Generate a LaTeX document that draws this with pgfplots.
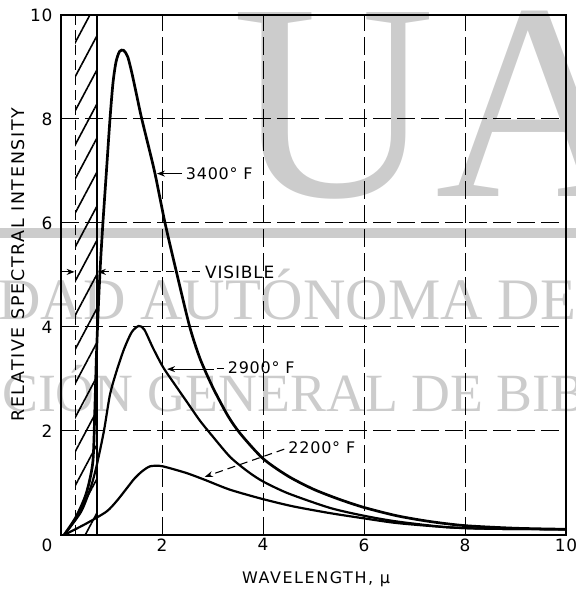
\documentclass[border=0pt]{standalone}
\usepackage{fontspec}
\setmainfont{DejaVu Sans}
\newfontfamily\lbl{DejaVu Sans}[LetterSpace=5]
\newfontfamily\axl{DejaVu Sans}[LetterSpace=10]
\newfontfamily\wm{Liberation Serif}
\usepackage{pgfplots}
\pgfplotsset{compat=1.18}
\usetikzlibrary{patterns.meta,arrows.meta}
\definecolor{wmgray}{gray}{0.8}

\begin{document}
\begin{tikzpicture}
\useasboundingbox (-61bp,-58bp) rectangle (515bp,535bp);
% watermark behind the chart (page coordinates, origin at bottom left)
\begin{scope}[shift={(-61bp,-58bp)}]
\fill[wmgray] (0bp,355bp) rectangle (576bp,365bp);
\node[wmgray,anchor=base west,inner sep=0,font=\wm\fontsize{282}{282}\selectfont] at (232bp,396bp) {UA};
\node[wmgray,anchor=base west,inner sep=0,font=\wm\fontsize{59}{59}\selectfont] at (-2bp,273bp) {DAD AUTÓNOMA DE};
\node[wmgray,anchor=base west,inner sep=0,font=\wm\fontsize{54}{54}\selectfont] at (2bp,181bp) {CIÓN GENERAL DE BIB};
\end{scope}

\begin{axis}[
    at={(0,0)}, anchor=south west,
    width=505bp, height=520bp, scale only axis,
    xmin=0, xmax=10, ymin=0, ymax=10,
    xtick={2,4,6,8,10}, ytick={2,4,6,8,10},
    extra x ticks={0},
    extra x tick style={grid=none, xticklabel style={xshift=-14bp}},
    major tick length=0pt,
    grid=major,
    major grid style={black, line width=1bp, dash pattern=on 18bp off 6bp},
    axis line style={line width=1.4bp},
    /pgf/number format/assume math mode=true,
    ticklabel style={font=\lbl\fontsize{17}{17}\selectfont},
    yticklabel style={xshift=-5bp},
    xlabel={WAVELENGTH, µ},
    ylabel={RELATIVE SPECTRAL INTENSITY},
    xlabel style={font=\axl\fontsize{16}{16}\selectfont, at={(axis description cs:0.505,0)}, anchor=north, yshift=-33bp},
    ylabel style={font=\axl\fontsize{17.5}{17.5}\selectfont, at={(axis description cs:-0.085,0.52)}, anchor=center},
]
% visible band
\addplot[draw=none, pattern={Lines[angle=62,distance=16bp,line width=1.6bp]}]
    coordinates {(0.28,0) (0.28,10) (0.72,10) (0.72,0)} -- cycle;
\addplot[line width=1bp, dash pattern=on 10bp off 5bp] coordinates {(0.28,0) (0.28,10)};
\addplot[line width=2.2bp] coordinates {(0.72,0) (0.72,10)};

% 3400 F
\addplot[line width=2.7bp, smooth, tension=0.45] coordinates {
    (0.06,0) (0.3,0.35) (0.5,0.8) (0.63,1.4) (0.67,2.4) (0.7,3.4) (0.74,4.4)
    (0.78,5.2) (0.83,6.0) (0.9,7.0) (0.97,8.0) (1.03,8.7) (1.09,9.1) (1.16,9.3)
    (1.24,9.32) (1.32,9.2) (1.4,8.9) (1.5,8.45) (1.6,8.0) (1.85,7.0) (2.06,6.0)
    (2.3,5.0) (2.55,4.0) (2.75,3.4) (3.0,2.85) (3.3,2.3) (3.55,1.95) (4.0,1.47)
    (4.5,1.13) (5.0,0.88) (5.5,0.69) (6.0,0.53) (6.65,0.37) (7.3,0.26)
    (8.0,0.18) (9.0,0.13) (10,0.11)
};
% 2900 F
\addplot[line width=2.2bp, smooth, tension=0.45] coordinates {
    (0.06,0) (0.4,0.45) (0.6,0.95) (0.71,1.35) (0.85,2.0) (0.97,2.7) (1.1,3.15)
    (1.25,3.58) (1.4,3.9) (1.54,4.02) (1.65,3.95) (1.82,3.6) (2.02,3.23)
    (2.25,2.9) (2.5,2.55) (2.75,2.2) (3.0,1.9) (3.35,1.5) (3.7,1.22) (4.0,1.03)
    (4.5,0.8) (5.33,0.52) (6.0,0.37) (6.65,0.26) (7.64,0.15) (8.5,0.12) (10,0.11)
};
% 2200 F
\addplot[line width=2.2bp, smooth, tension=0.45] coordinates {
    (0.06,0) (0.5,0.22) (0.9,0.45) (1.1,0.65) (1.28,0.87) (1.45,1.08) (1.6,1.22)
    (1.76,1.32) (1.95,1.33) (2.1,1.3) (2.49,1.19) (2.85,1.06) (3.35,0.87)
    (4.0,0.69) (4.6,0.55) (5.33,0.42) (6.0,0.32) (6.65,0.23) (7.64,0.15)
    (8.5,0.12) (10,0.11)
};

% annotations
\draw[line width=1.1bp, -{Stealth[length=8bp,width=6bp]}] (axis cs:2.4,6.95) -- (axis cs:1.9,6.95);
\node[anchor=west, inner sep=0, font=\lbl\fontsize{16}{16}\selectfont] at (axis cs:2.47,6.95) {3400° F};

\draw[line width=1.1bp, dash pattern=on 8bp off 5bp, -{Stealth[length=8bp,width=6bp]}] (axis cs:2.75,5.06) -- (axis cs:0.73,5.06);
\draw[line width=1.1bp, -{Stealth[length=8bp,width=6bp]}] (axis cs:0.0,5.06) -- (axis cs:0.27,5.06);
\node[anchor=west, inner sep=0, font=\lbl\fontsize{17}{17}\selectfont] at (axis cs:2.85,5.06) {VISIBLE};

\draw[line width=1.1bp, -{Stealth[length=8bp,width=6bp]}] (axis cs:3.02,3.19) -- (axis cs:2.1,3.19);
\draw[line width=1.1bp] (axis cs:3.08,3.2) -- (axis cs:3.22,3.2);
\node[anchor=west, inner sep=0, font=\lbl\fontsize{16}{16}\selectfont] at (axis cs:3.3,3.22) {2900° F};

\draw[line width=1.1bp, dash pattern=on 8bp off 5bp, -{Stealth[length=8bp,width=6bp]}] (axis cs:4.42,1.65) -- (axis cs:2.85,1.12);
\node[anchor=west, inner sep=0, font=\lbl\fontsize{16}{16}\selectfont] at (axis cs:4.5,1.67) {2200° F};
\end{axis}
\end{tikzpicture}
\end{document}
